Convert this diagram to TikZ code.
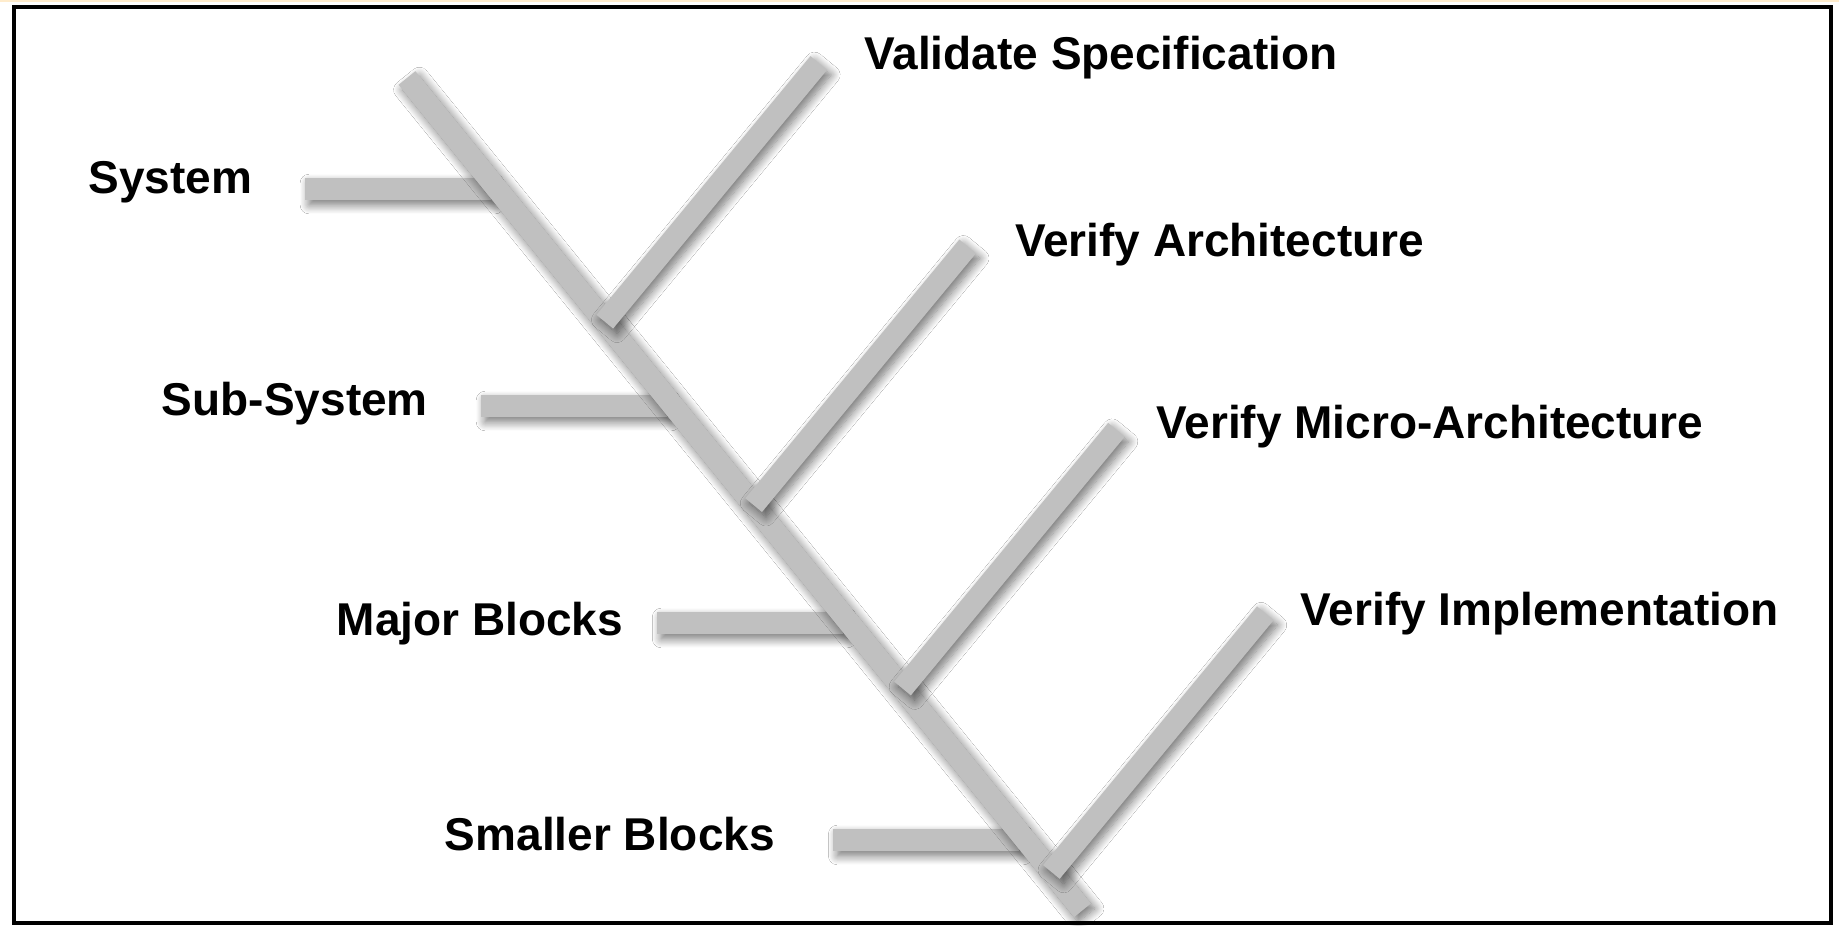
\documentclass[tikz,border=0pt]{standalone}
\usepackage{fontspec}
\setmainfont{Liberation Sans}
\usetikzlibrary{calc,shadows.blur}

\definecolor{bonegray}{RGB}{192,192,192}
\definecolor{edgecream}{RGB}{255,236,204}
\tikzset{
  bone/.style={fill=bonegray, blur shadow={shadow xshift=2pt, shadow yshift=-2.5pt, shadow blur radius=4.5pt, shadow blur steps=12, shadow opacity=55}},
  lvl/.style={font=\bfseries\fontsize{23}{27}\selectfont, inner sep=0pt, anchor=base east},
  chk/.style={font=\bfseries\fontsize{23}{27}\selectfont, inner sep=0pt, anchor=base west},
  frame/.style={draw=black, line width=2pt},
}
% one grey bar of the fishbone, from #1 to #2
\newcommand{\barhalf}{5.4pt}
\newcommand{\drawbone}[2]{\path[bone] ($(#1)!\barhalf!90:(#2)$) -- ($(#1)!\barhalf!-90:(#2)$) -- ($(#2)!\barhalf!90:(#1)$) -- ($(#2)!\barhalf!-90:(#1)$) -- cycle;}

\begin{document}
\begin{tikzpicture}[x=0.5pt, y=-0.5pt]
  \useasboundingbox (0,0) rectangle (1839,925);
  \fill[white] (0,0) rectangle (1839,925);
  \fill[edgecream] (0,0) rectangle (1839,2.5);
  \draw[frame] (14,7) rectangle (1831,923);

  % spine
  \coordinate (top) at (407,78);
  \coordinate (bot) at (1082.5,910.3);

  % levels on the left (they stop just under the spine)
  \coordinate (h1) at ($(top)!0.1334!(bot)+(-6,0)$);
  \coordinate (h2) at ($(top)!0.3941!(bot)+(-6,0)$);
  \coordinate (h3) at ($(top)!0.6548!(bot)+(-6,0)$);
  \coordinate (h4) at ($(top)!0.9155!(bot)+(-6,0)$);
  \coordinate (h1e) at ($(h1)+(-186,0)$);
  \coordinate (h2e) at ($(h2)+(-186,0)$);
  \coordinate (h3e) at ($(h3)+(-186,0)$);
  \coordinate (h4e) at ($(h4)+(-186,0)$);

  % checks on the right
  \coordinate (v1) at ($(top)!0.2928!(bot)$);
  \coordinate (v2) at ($(top)!0.5132!(bot)$);
  \coordinate (v3) at ($(top)!0.7335!(bot)$);
  \coordinate (v4) at ($(top)!0.9539!(bot)$);
  \coordinate (v1e) at ($(v1)+(214,-258.7)$);
  \coordinate (v2e) at ($(v2)+(214,-258.7)$);
  \coordinate (v3e) at ($(v3)+(214,-258.7)$);
  \coordinate (v4e) at ($(v4)+(214,-258.7)$);

  \drawbone{h1e}{h1}
  \drawbone{h2e}{h2}
  \drawbone{h3e}{h3}
  \drawbone{h4e}{h4}
  \drawbone{top}{bot}
  \drawbone{v1}{v1e}
  \drawbone{v2}{v2e}
  \drawbone{v3}{v3e}
  \drawbone{v4}{v4e}

  \node[lvl] (sys) at (252.6,193.3) {System};
  \node[lvl] (sub) at (428.2,415) {Sub-System};
  \node[lvl] (major) at (623.4,635) {Major Blocks};
  \node[lvl] (small) at (775.2,850.3) {Smaller Blocks};

  \node[chk] (spec) at (864,70) {Validate Specification};
  \node[chk] (arch) at (1014.6,256.7) {Verify Architecture};
  \node[chk] (micro) at (1156,438.3) {Verify Micro-Architecture};
  \node[chk] (impl) at (1300.3,625) {Verify Implementation};
\end{tikzpicture}
\end{document}
